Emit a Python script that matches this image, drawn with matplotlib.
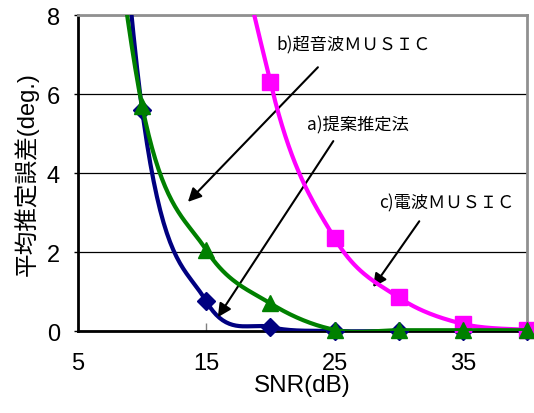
import numpy as np
import matplotlib
matplotlib.use("Agg")
import matplotlib.pyplot as plt

plt.rcParams['font.family'] = ['Liberation Sans', 'Noto Sans CJK JP']

snr = [5, 10, 15, 20, 25, 30, 35, 40]
err_proposed = [25.0, 5.6, 0.75, 0.1, 0.0, 0.0, 0.0, 0.0]
err_ultrasonic = [18.0, 5.7, 2.05, 0.7, 0.03, 0.02, 0.02, 0.02]
snr_radio = [10, 15, 20, 25, 30, 35, 40]
err_radio = [40.0, 16.0, 6.3, 2.35, 0.85, 0.18, 0.03]

x_ticks = [5, 15, 25, 35]
y_ticks = [0, 2, 4, 6, 8]


def smooth(xs, ys, n=40):
    # Bezier smoothing through every point (Catmull-Rom style control points)
    p = np.column_stack([xs, ys]).astype(float)
    p = np.vstack([p[:1], p, p[-1:]])
    out = []
    t = np.linspace(0, 1, n)[:, None]
    for i in range(1, len(p) - 2):
        p0, p1 = p[i], p[i + 1]
        c1 = p0 + (p[i + 1] - p[i - 1]) / 6
        c2 = p1 - (p[i + 2] - p[i]) / 6
        seg = ((1 - t) ** 3) * p0 + 3 * ((1 - t) ** 2) * t * c1 \
            + 3 * (1 - t) * t ** 2 * c2 + t ** 3 * p1
        out.append(seg)
    out = np.vstack(out)
    return out[:, 0], out[:, 1]


fig = plt.figure(figsize=(5.34, 4.14), dpi=100)
ax = fig.add_axes([0.146, 0.198, 0.841, 0.763])

series = [
    (snr, err_proposed, '#000080', 'D', 9),
    (snr_radio, err_radio, '#FF00FF', 's', 11.5),
    (snr, err_ultrasonic, '#008000', '^', 12),
]
for z, (xs, ys, col, mk, ms) in enumerate(series):
    sx, sy = smooth(xs, ys)
    ax.plot(sx, sy, color=col, lw=3, zorder=3 + z)
    xm = [x for x, y in zip(xs, ys) if y <= 8]
    ym = [y for y in ys if y <= 8]
    ax.plot(xm, ym, ls='none', marker=mk, ms=ms, color=col,
            clip_on=False, zorder=3 + z)

ax.set_xlim(5, 40)
ax.set_ylim(0, 8)
ax.set_xticks(x_ticks)
ax.set_yticks(y_ticks)
ax.tick_params(axis='x', direction='in', length=6, width=1, color='#808080',
               labelsize=17, pad=15)
ax.tick_params(axis='y', direction='out', length=3, width=1, color='black',
               labelsize=17, pad=10)
ax.yaxis.grid(True, color='black', lw=0.9)
ax.set_axisbelow(True)
for side in ('left', 'bottom'):
    ax.spines[side].set_color('black')
    ax.spines[side].set_linewidth(2)
for side in ('top', 'right'):
    ax.spines[side].set_color('#909090')
    ax.spines[side].set_linewidth(2)

ax.set_xlabel('SNR(dB)', fontsize=17.5, labelpad=0)
ax.set_ylabel('平均推定誤差(deg.)', fontsize=17, labelpad=6)

arrow = dict(arrowstyle='-|>', mutation_scale=20, lw=1.5, color='black',
             shrinkA=0, shrinkB=0)
ann_font = ['Noto Sans CJK JP']
ax.text(20.5, 7.27, 'b)超音波ＭＵＳＩＣ', fontsize=12.4, va='center',
        family=ann_font)
ax.annotate('', xy=(13.57, 3.27), xytext=(23.7, 6.68), arrowprops=arrow)
ax.text(22.85, 5.24, 'a)提案推定法', fontsize=12.4, va='center',
        family=ann_font)
ax.annotate('', xy=(15.9, 0.35), xytext=(24.9, 4.81), arrowprops=arrow)
ax.text(28.5, 3.27, 'c)電波ＭＵＳＩＣ', fontsize=12.4, va='center',
        family=ann_font)
ax.annotate('', xy=(28.0, 1.11), xytext=(31.6, 2.78), arrowprops=arrow)

fig.savefig('out.png', dpi=100)
